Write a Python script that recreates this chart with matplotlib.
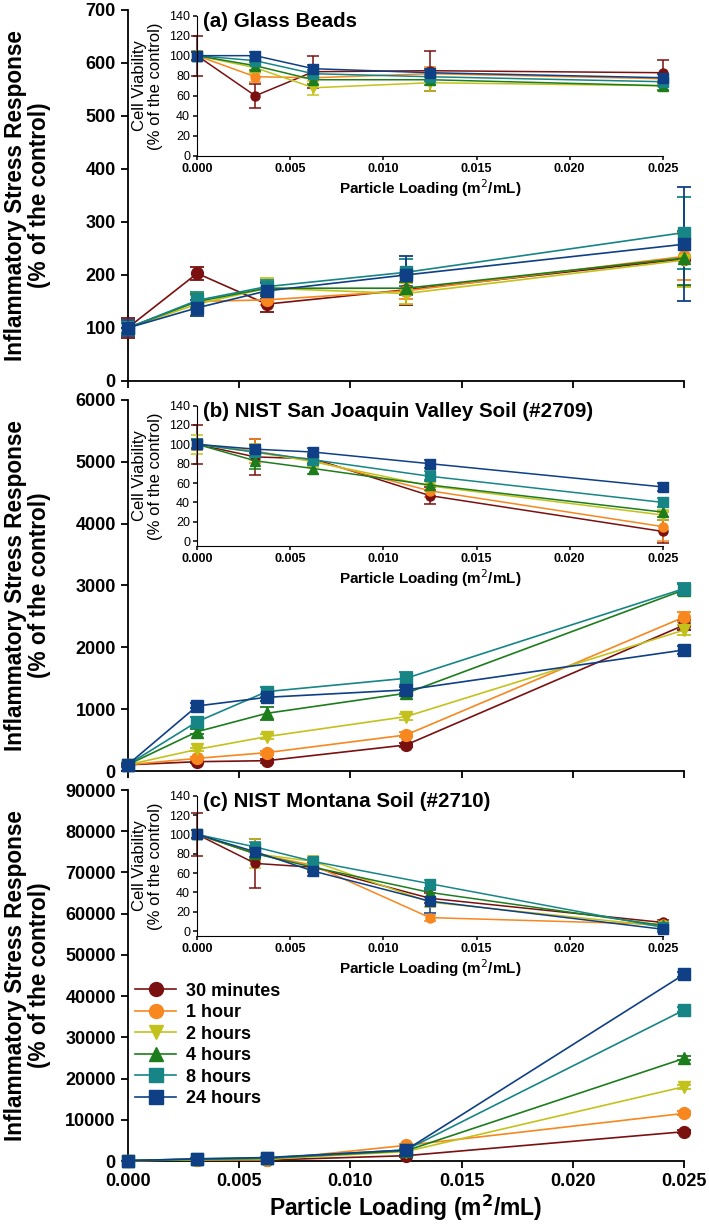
import matplotlib.pyplot as plt
from matplotlib.lines import Line2D

plt.rcParams['font.family'] = ['Liberation Sans', 'DejaVu Sans']

# particle loading (m2/mL)
x = [0, 0.003125, 0.00625, 0.0125, 0.025]
labels = ['30 minutes', '1 hour', '2 hours', '4 hours', '8 hours', '24 hours']
colors = ['#7a1010', '#f7871e', '#c3c21c', '#1d7d1d', '#178585', '#0f3f84']
markers = ['o', 'o', 'v', '^', 's', 's']

# (a) glass beads, inflammatory stress response (% of control)
glass_isr = [[100, 203, 145, 172, 230],
             [100, 150, 153, 170, 235],
             [100, 145, 175, 165, 228],
             [100, 150, 175, 175, 232],
             [100, 152, 178, 205, 280],
             [100, 138, 170, 200, 258]]
glass_isr_err = [[18, 12, 15, 28, 50],
                 [10, 12, 10, 15, 45],
                 [12, 20, 20, 20, 50],
                 [10, 15, 12, 12, 50],
                 [12, 15, 12, 25, 68],
                 [15, 15, 15, 35, 108]]
glass_via = [[100, 60, 84, 85, 83],
             [100, 79, 78, 82, 77],
             [100, 88, 68, 73, 70],
             [100, 90, 76, 76, 70],
             [100, 95, 82, 79, 74],
             [100, 100, 87, 83, 78]]
glass_via_err = [[20, 12, 16, 20, 13],
                 [5, 5, 6, 7, 5],
                 [5, 5, 7, 8, 5],
                 [4, 4, 4, 5, 4],
                 [4, 4, 4, 4, 4],
                 [4, 4, 4, 4, 4]]

# (b) NIST San Joaquin Valley soil (#2709)
sjv_isr = [[100, 151, 167, 421, 2360],
           [100, 205, 297, 583, 2490],
           [100, 350, 556, 879, 2280],
           [100, 636, 933, 1257, 2930],
           [100, 798, 1284, 1499, 2950],
           [100, 1052, 1192, 1311, 1958]]
sjv_isr_err = [[30, 20, 30, 40, 80],
               [20, 20, 30, 40, 80],
               [20, 30, 40, 50, 80],
               [20, 40, 100, 50, 90],
               [20, 80, 80, 110, 90],
               [20, 40, 60, 50, 60]]
sjv_via = [[100, 87, 85, 47, 10],
           [100, 93, 83, 52, 15],
           [100, 92, 82, 57, 27],
           [100, 83, 75, 58, 30],
           [100, 92, 84, 67, 40],
           [100, 95, 92, 80, 56]]
sjv_via_err = [[20, 19, 5, 9, 12],
               [6, 12, 5, 6, 15],
               [10, 8, 5, 5, 5],
               [5, 8, 6, 5, 5],
               [5, 5, 5, 5, 5],
               [4, 4, 4, 4, 4]]

# (c) NIST Montana soil (#2710)
mt_isr = [[100, 300, 250, 1300, 7120],
          [100, 350, 300, 3800, 11570],
          [100, 300, 450, 2300, 18040],
          [100, 450, 650, 2500, 24900],
          [100, 500, 750, 2700, 36650],
          [100, 550, 850, 2670, 45300]]
mt_isr_err = [[20, 100, 100, 200, 400],
              [20, 100, 100, 300, 500],
              [20, 100, 100, 200, 500],
              [20, 100, 100, 200, 500],
              [20, 100, 100, 200, 600],
              [20, 100, 100, 200, 600]]
mt_via = [[100, 70, 66, 34, 9],
          [100, 80, 68, 14, 7],
          [100, 80, 72, 30, 5],
          [100, 80, 66, 40, 6],
          [100, 87, 72, 49, 4],
          [100, 82, 62, 31, 2]]
mt_via_err = [[22, 25, 5, 5, 3],
              [5, 8, 5, 3, 3],
              [5, 15, 6, 5, 3],
              [4, 5, 4, 5, 3],
              [4, 5, 4, 4, 3],
              [4, 5, 5, 12, 3]]

titles = ['(a) Glass Beads', '(b) NIST San Joaquin Valley Soil (#2709)',
          '(c) NIST Montana Soil (#2710)']
isr_data = [glass_isr, sjv_isr, mt_isr]
isr_errs = [glass_isr_err, sjv_isr_err, mt_isr_err]
via_data = [glass_via, sjv_via, mt_via]
via_errs = [glass_via_err, sjv_via_err, mt_via_err]
isr_max = [700, 6000, 90000]
isr_step = [100, 1000, 10000]

fig = plt.figure(figsize=(7.09, 12.25), dpi=100)

main_bottoms = [0.689, 0.3706, 0.0522]
inset_bottoms = [0.8727, 0.5543, 0.2359]
inset_ylow = [0, -5, -5]
xt = [0, 0.005, 0.010, 0.015, 0.020, 0.025]
xt_lab = ['0.000', '0.005', '0.010', '0.015', '0.020', '0.025']

for p in range(3):
    ax = fig.add_axes([0.18, main_bottoms[p], 0.785, 0.3029])
    for i in range(6):
        ax.errorbar(x, isr_data[p][i], yerr=isr_errs[p][i], color=colors[i],
                    marker=markers[i], markersize=8.5, linewidth=1.2,
                    elinewidth=1.3, capsize=5, capthick=1.3,
                    clip_on=False, zorder=3)
    ax.set_xlim(0, 0.025)
    ax.set_ylim(0, isr_max[p])
    ax.set_yticks(range(0, isr_max[p] + 1, isr_step[p]))
    ax.set_xticks(xt)
    ax.spines['top'].set_visible(False)
    ax.spines['right'].set_visible(False)
    for s in ['left', 'bottom']:
        ax.spines[s].set_linewidth(1.3)
    ax.tick_params(direction='out', length=5, width=1.3, labelsize=13)
    for t in ax.get_yticklabels():
        t.set_fontweight('bold')
    if p == 2:
        ax.set_xticklabels(xt_lab, fontweight='bold')
        ax.set_xlabel('Particle Loading (m$^\\mathbf{2}$/mL)', fontsize=16.5,
                      fontweight='bold', labelpad=2)
        handles = [Line2D([], [], color=colors[i], marker=markers[i],
                          markersize=10, linewidth=1.2) for i in range(6)]
        ax.legend(handles, labels, loc='upper left', bbox_to_anchor=(0.0, 0.50),
                  frameon=False, prop={'size': 13, 'weight': 'bold'},
                  handlelength=2.3, labelspacing=0.25, handletextpad=0.55,
                  borderaxespad=0)
    else:
        ax.set_xticklabels([])
    ax.set_ylabel('Inflammatory Stress Response\n(% of the control)',
                  fontsize=16.3, fontweight='bold', linespacing=1.05)
    ax.yaxis.set_label_coords(-0.137, 0.5)

    # cell viability inset
    ins = fig.add_axes([0.2779, inset_bottoms[p], 0.657, 0.1146])
    ins.patch.set_alpha(0)
    for i in range(6):
        ins.errorbar(x, via_data[p][i], yerr=via_errs[p][i], color=colors[i],
                     marker=markers[i], markersize=6.5, linewidth=1.1,
                     elinewidth=1.1, capsize=4, capthick=1.1, clip_on=False)
    ins.set_xlim(0, 0.025)
    ins.set_ylim(inset_ylow[p], 140)
    ins.set_yticks(range(0, 141, 20))
    ins.set_xticks(xt)
    ins.set_xticklabels(xt_lab, fontweight='bold', fontsize=10.5)
    ins.spines['top'].set_visible(False)
    ins.spines['right'].set_visible(False)
    ins.tick_params(direction='out', length=3, width=1.1, labelsize=9, pad=2)
    ins.set_ylabel('Cell Viability\n(% of the control)', fontsize=12,
                   linespacing=1.1)
    ins.yaxis.set_label_coords(-0.072, 0.5)
    ins.set_xlabel('Particle Loading (m$^2$/mL)', fontsize=11, fontweight='bold',
                   labelpad=2)
    ins.text(0.012, 1.025, titles[p], transform=ins.transAxes, fontsize=14.8,
             fontweight='bold', va='top', ha='left')

fig.savefig('out.png', dpi=100)
